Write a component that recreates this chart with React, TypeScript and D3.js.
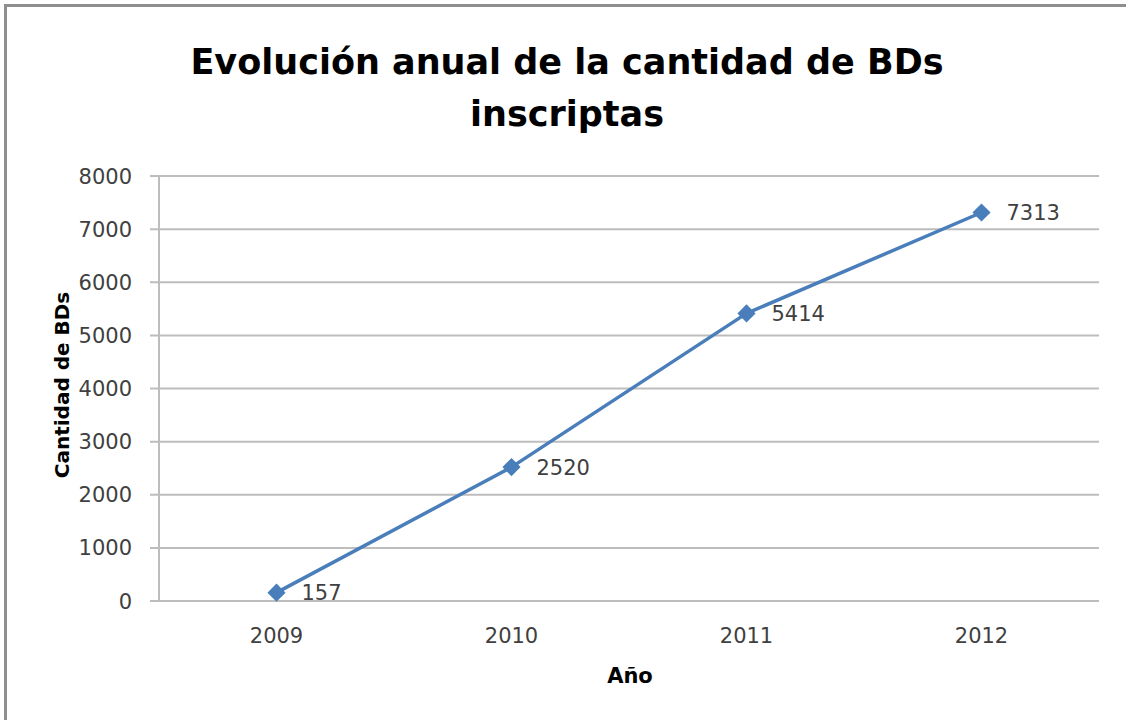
import React, { useEffect, useRef } from "react";
import * as d3 from "d3";

const years = ["2009", "2010", "2011", "2012"];
const counts = [157, 2520, 5414, 7313];
const yTicks = [0, 1000, 2000, 3000, 4000, 5000, 6000, 7000, 8000];
const titleLines = ["Evolución anual de la cantidad de BDs", "inscriptas"];
const yTitle = "Cantidad de BDs";
const xTitle = "Año";

const App = () => {
  const ref = useRef<SVGSVGElement>(null);

  useEffect(() => {
    const width = 1126;
    const height = 720;
    const margin = { top: 176, right: 27, bottom: 119, left: 159 };
    const font = "DejaVu Sans, Verdana, sans-serif";
    const lineColor = "#4a7ebb";

    const svg = d3.select(ref.current);
    svg.selectAll("*").remove();

    // frame (only top and left edges show in the picture)
    svg
      .append("rect")
      .attr("x", 5.5)
      .attr("y", 5.5)
      .attr("width", width + 20)
      .attr("height", height + 20)
      .attr("fill", "#fff")
      .attr("stroke", "#8f8f8f")
      .attr("stroke-width", 3);

    const title = svg
      .append("text")
      .attr("x", 567)
      .attr("font-family", font)
      .attr("font-weight", "bold")
      .attr("font-size", 35)
      .attr("fill", "#000")
      .attr("text-anchor", "middle");
    titleLines.forEach((t, i) => {
      title
        .append("tspan")
        .attr("x", 567)
        .attr("y", 74 + i * 52)
        .text(t);
    });

    const x = d3
      .scaleBand()
      .domain(years)
      .range([margin.left, width - margin.right]);
    const y = d3
      .scaleLinear()
      .domain([0, 8000])
      .range([height - margin.bottom, margin.top]);

    // gridlines
    svg
      .append("g")
      .selectAll("line")
      .data(yTicks)
      .enter()
      .append("line")
      .attr("x1", margin.left - 9)
      .attr("x2", width - margin.right)
      .attr("y1", d => y(d))
      .attr("y2", d => y(d))
      .attr("stroke", "#bdbdbd")
      .attr("stroke-width", 2);

    // y axis line
    svg
      .append("line")
      .attr("x1", margin.left)
      .attr("x2", margin.left)
      .attr("y1", y(8000))
      .attr("y2", y(0))
      .attr("stroke", "#bdbdbd")
      .attr("stroke-width", 2);

    svg
      .append("g")
      .selectAll("text")
      .data(yTicks)
      .enter()
      .append("text")
      .attr("x", 132)
      .attr("y", d => y(d))
      .attr("dy", "0.36em")
      .attr("text-anchor", "end")
      .attr("font-family", font)
      .attr("font-size", 21)
      .attr("fill", "#404040")
      .text(d => d);

    svg
      .append("g")
      .selectAll("text")
      .data(years)
      .enter()
      .append("text")
      .attr("x", d => (x(d) as number) + x.bandwidth() / 2)
      .attr("y", 635)
      .attr("dy", "0.36em")
      .attr("text-anchor", "middle")
      .attr("font-family", font)
      .attr("font-size", 21)
      .attr("fill", "#404040")
      .text(d => d);

    svg
      .append("text")
      .attr("transform", "translate(62,385) rotate(-90)")
      .attr("dy", "0.36em")
      .attr("text-anchor", "middle")
      .attr("font-family", font)
      .attr("font-weight", "bold")
      .attr("font-size", 20)
      .attr("fill", "#000")
      .text(yTitle);

    svg
      .append("text")
      .attr("x", 630)
      .attr("y", 675)
      .attr("dy", "0.36em")
      .attr("text-anchor", "middle")
      .attr("font-family", font)
      .attr("font-weight", "bold")
      .attr("font-size", 21)
      .attr("fill", "#000")
      .text(xTitle);

    const pts = years.map((yr, i) => ({
      cx: (x(yr) as number) + x.bandwidth() / 2,
      cy: y(counts[i]),
      v: counts[i]
    }));

    const line = d3
      .line<{ cx: number; cy: number }>()
      .x(d => d.cx)
      .y(d => d.cy);

    svg
      .append("path")
      .attr("d", line(pts))
      .attr("fill", "none")
      .attr("stroke", lineColor)
      .attr("stroke-width", 3.5)
      .attr("stroke-linejoin", "round");

    svg
      .append("g")
      .selectAll("path")
      .data(pts)
      .enter()
      .append("path")
      .attr("d", d3.symbol().type(d3.symbolSquare).size(165)())
      .attr("transform", d => `translate(${d.cx},${d.cy}) rotate(45)`)
      .attr("fill", lineColor);

    svg
      .append("g")
      .selectAll("text")
      .data(pts)
      .enter()
      .append("text")
      .attr("x", d => d.cx + 25)
      .attr("y", d => d.cy)
      .attr("dy", "0.36em")
      .attr("font-family", font)
      .attr("font-size", 21)
      .attr("fill", "#404040")
      .text(d => d.v);
  }, []);

  return (
    <svg
      ref={ref}
      width={1126}
      height={720}
      style={{ position: "absolute", left: 0, top: 0, background: "#fff" }}
    />
  );
};

export default App;
